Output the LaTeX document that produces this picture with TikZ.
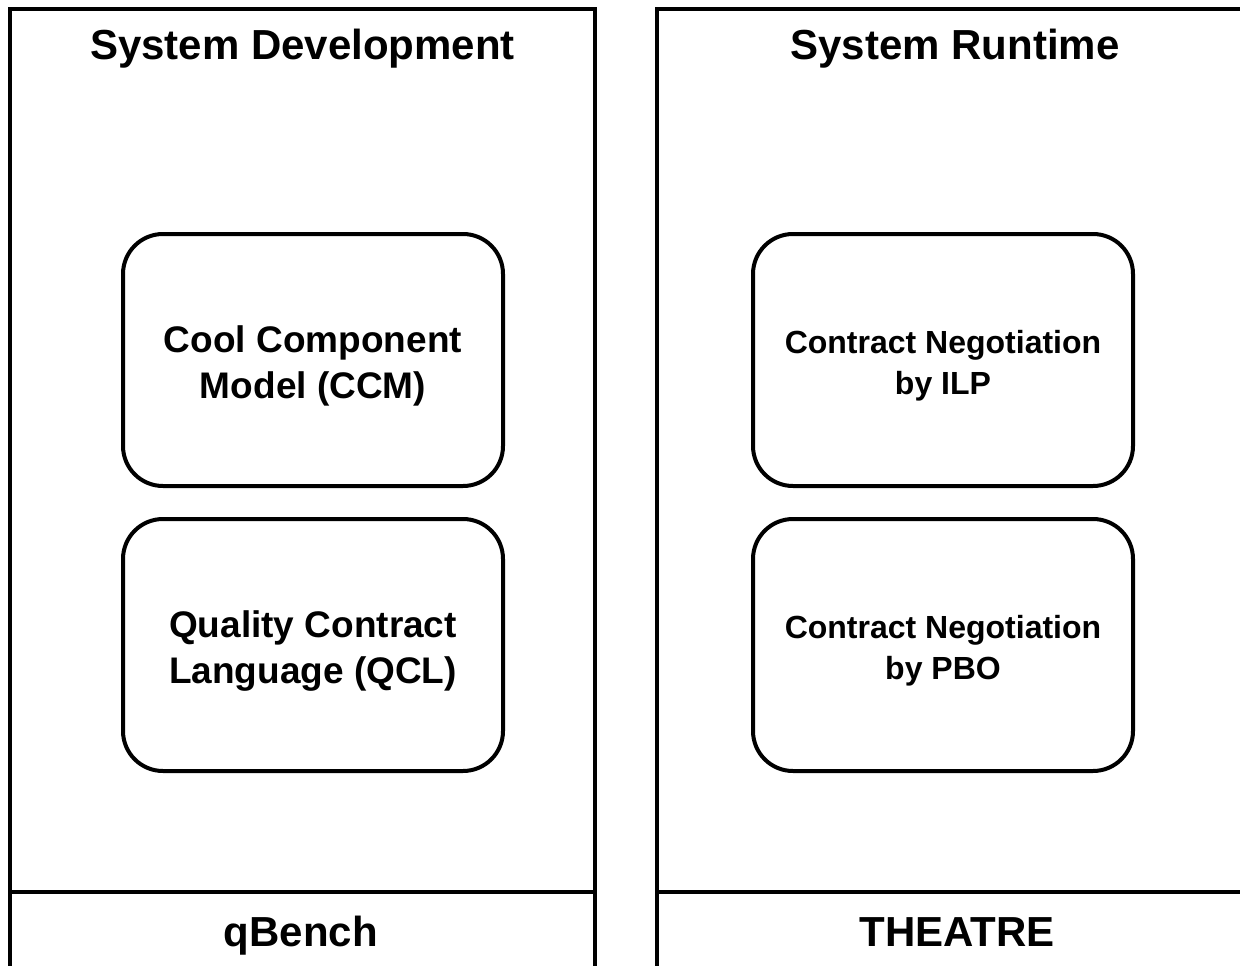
\documentclass[tikz,border=0pt]{standalone}
\usepackage{fontspec}
\setmainfont{Liberation Sans}
\begin{document}
\begin{tikzpicture}[x=1pt,y=-1pt,
  frame/.style={draw=black,line width=4pt},
  module/.style={draw=black,line width=4pt,rounded corners=40pt,
    minimum width=380pt,minimum height=252pt,inner sep=0pt},
  label/.style={align=center},
  bigtext/.style={font=\fontsize{42}{48}\selectfont\bfseries},
  modtext/.style={label,font=\fontsize{37}{46}\selectfont\bfseries},
  smalltext/.style={label,font=\fontsize{32}{41}\selectfont\bfseries}]
\useasboundingbox (0,0) rectangle (1240,966);
\clip (0,0) rectangle (1240,966);
% development side
\draw[frame] (10,9) rectangle (595,975);
\draw[frame] (10,892) -- (595,892);
\node[bigtext] (devtitle) at (302.5,49) {System Development};
\node[bigtext] (qbench) at (301,936) {qBench};
\node[module] (ccm) at (313,360) {};
\node[modtext] (ccmtext) at (313,366) {Cool Component\\Model (CCM)};
\node[module] (qcl) at (313,645) {};
\node[modtext] (qcltext) at (313,651.5) {Quality Contract\\Language (QCL)};
% runtime side
\draw[frame] (657,9) rectangle (1260,975);
\draw[frame] (657,892) -- (1260,892);
\node[bigtext] (runtitle) at (955,49) {System Runtime};
\node[bigtext] (theatre) at (957,932) {THEATRE};
\node[module] (ilp) at (943,360) {};
\node[smalltext] (ilptext) at (943,366) {Contract Negotiation\\by ILP};
\node[module] (pbo) at (943,645) {};
\node[smalltext] (pbotext) at (943,651) {Contract Negotiation\\by PBO};
\end{tikzpicture}
\end{document}
